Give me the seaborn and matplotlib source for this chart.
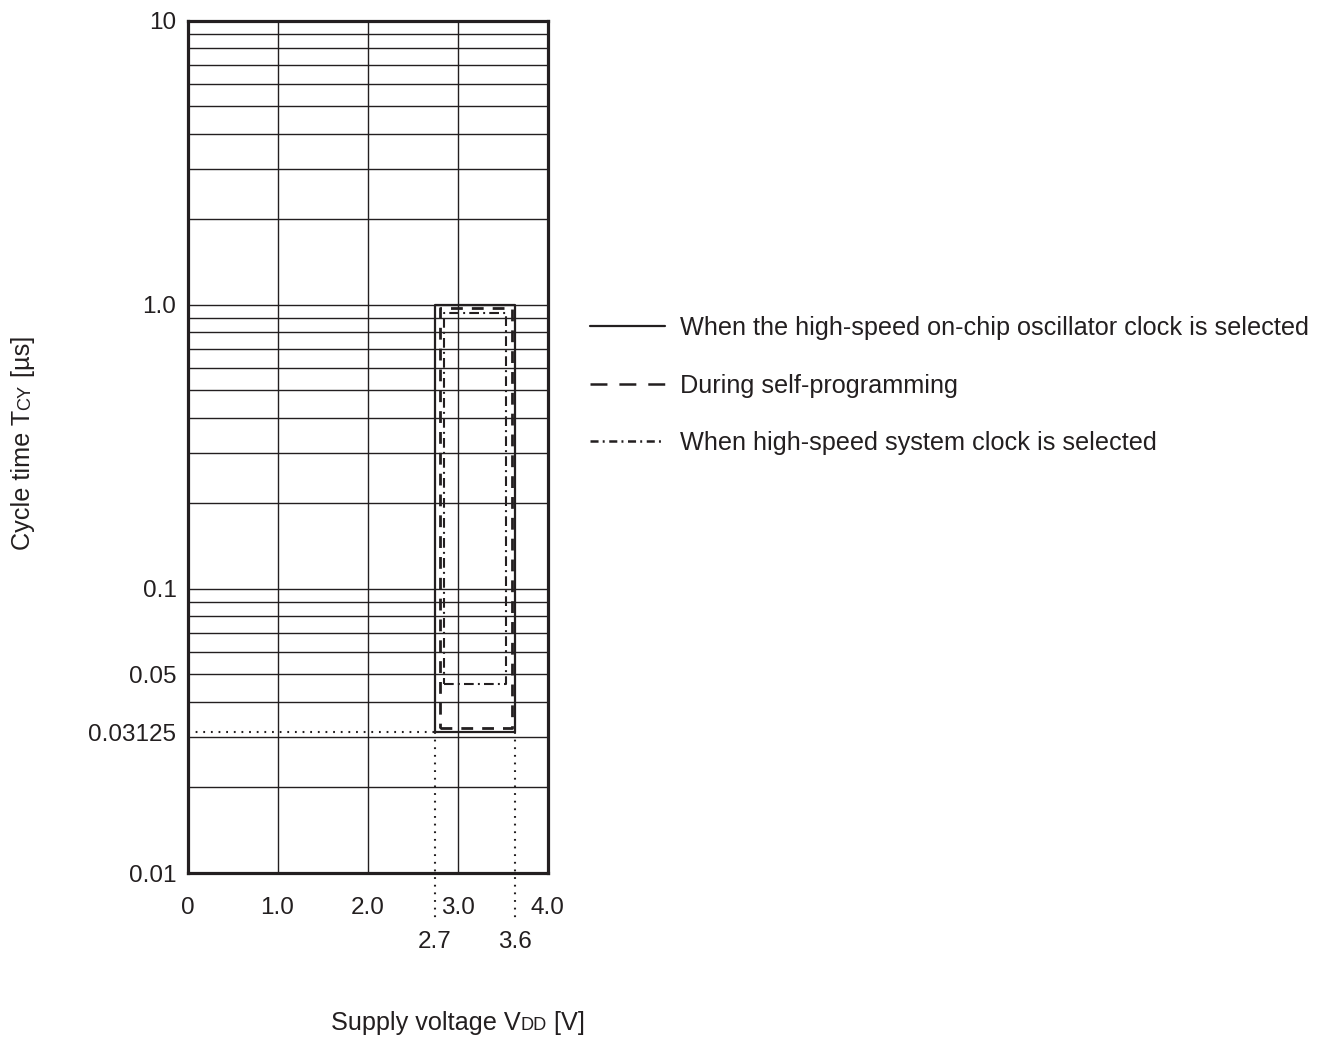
import pandas as pd
import seaborn as sns
import matplotlib.pyplot as plt
import matplotlib.transforms as mtransforms
from matplotlib.lines import Line2D

# operating areas (supply voltage in V, cycle time in us)
series_names = ["When the high-speed on-chip oscillator clock is selected",
                "During self-programming",
                "When high-speed system clock is selected"]
vdd_min = [2.75, 2.80, 2.85]
vdd_max = [3.64, 3.60, 3.54]
tcy_min = [0.03125, 0.0323, 0.0462]
tcy_max = [1.0, 0.975, 0.937]

xtick_values = [0, 1, 2, 3, 4]
xtick_labels = ["0", "1.0", "2.0", "3.0", "4.0"]
extra_x_values = [2.75, 3.64]
extra_x_labels = ["2.7", "3.6"]
ytick_values = [0.01, 0.03125, 0.05, 0.1, 1.0, 10]
ytick_labels = ["0.01", "0.03125", "0.05", "0.1", "1.0", "10"]
grid_x = [1, 2, 3]
grid_y = [m * 10.0 ** e for e in (-2, -1, 0) for m in range(1, 10)] + [10]

INK = "#231f20"
FS = 17.5
FS_TXT = 18.2

sns.set_theme(style="white")
plt.rcParams["font.family"] = ["Liberation Sans", "DejaVu Sans"]
plt.rcParams["lines.scale_dashes"] = False
plt.rcParams["text.color"] = INK
plt.rcParams["xtick.color"] = INK
plt.rcParams["ytick.color"] = INK

W, H = 1327, 1039
fig = plt.figure(figsize=(W / 100, H / 100), dpi=100)
ax = fig.add_axes([187.5 / W, 1 - 873 / H, 360 / W, 852.3 / H])
ax.set_yscale("log")
ax.set_xlim(0, 4)
ax.set_ylim(0.01, 10)

# grid
ax.hlines(grid_y, 0, 4, color=INK, lw=1.0, zorder=1)
ax.vlines(grid_x, 0.01, 10, color=INK, lw=1.0, zorder=1)

styles = [
    dict(linestyle="-", lw=1.6),
    dict(linestyle=(0, (8.5, 6.5)), lw=2.0),
    dict(linestyle=(0, (7, 3, 1.4, 3)), lw=1.5),
]
for i, name in enumerate(series_names):
    rect = pd.DataFrame({
        "vdd": [vdd_min[i], vdd_max[i], vdd_max[i], vdd_min[i], vdd_min[i]],
        "tcy": [tcy_min[i], tcy_min[i], tcy_max[i], tcy_max[i], tcy_min[i]],
    })
    sns.lineplot(data=rect, x="vdd", y="tcy", sort=False, estimator=None,
                 color=INK, ax=ax, zorder=3, **styles[i])

# dotted guides to the 0.03125 / 2.7 / 3.6 marks
dot = (0, (1.3, 4.2))
ax.plot([0, vdd_min[0]], [tcy_min[0], tcy_min[0]], color=INK, lw=1.5,
        linestyle=dot, zorder=2)
for xv in extra_x_values:
    ax.plot([xv, xv], [tcy_min[0], 0.0068], color=INK, lw=1.5, linestyle=dot,
            clip_on=False, zorder=2)

ax.set_xticks(xtick_values, xtick_labels)
ax.set_yticks(ytick_values, ytick_labels)
ax.yaxis.set_minor_locator(plt.NullLocator())
ax.tick_params(axis="x", length=0, pad=17, labelsize=FS)
ax.tick_params(axis="y", length=0, pad=8, labelsize=FS)
for xv, lab in zip(extra_x_values, extra_x_labels):
    ax.annotate(lab, xy=(xv, 0), xycoords=("data", "axes fraction"),
                xytext=(0, -50), textcoords="offset points",
                ha="center", va="center", fontsize=FS, color=INK)
ax.set_xlabel("")
ax.set_ylabel("")
for sp in ax.spines.values():
    sp.set_color(INK)
    sp.set_linewidth(2.3)
    sp.set_zorder(5)

# legend
handles = [
    Line2D([], [], color=INK, lw=1.6, linestyle="-"),
    Line2D([], [], color=INK, lw=1.8, linestyle=(0, (12.2, 8.6))),
    Line2D([], [], color=INK, lw=1.8, linestyle=(0, (5.8, 3, 1.4, 3.3))),
]
fig.legend(handles, series_names, loc="upper left",
           bbox_to_anchor=(590 / W, 1 - 316 / H), frameon=False,
           fontsize=FS_TXT, handlelength=2.95, handletextpad=0.6,
           labelspacing=1.33, borderpad=0, borderaxespad=0)


# axis titles with small-caps subscripts
def compound_text(parts, center, base, rotation=0):
    renderer = fig.canvas.get_renderer()
    ident = mtransforms.IdentityTransform()
    texts = []
    pos = 0
    for s, size in parts:
        if rotation:
            t = fig.text(base, pos, s, fontsize=size, rotation=90,
                         rotation_mode="anchor", ha="left", va="baseline",
                         transform=ident, color=INK)
            bb = t.get_window_extent(renderer)
            pos = bb.y1
        else:
            t = fig.text(pos, base, s, fontsize=size, ha="left",
                         va="baseline", transform=ident, color=INK)
            bb = t.get_window_extent(renderer)
            pos = bb.x1
        texts.append(t)
    shift = center - pos / 2
    for t in texts:
        x, y = t.get_position()
        if rotation:
            t.set_position((x, y + shift))
        else:
            t.set_position((x + shift, y))


compound_text([("Supply voltage V", FS_TXT), ("DD", FS_TXT * 0.72),
               (" [V]", FS_TXT)], center=458, base=H - 1030)
compound_text([("Cycle time T", FS_TXT), ("CY", FS_TXT * 0.72),
               (" [µs]", FS_TXT)], center=H - 443, base=30, rotation=90)

fig.savefig("out.png", dpi=100)
